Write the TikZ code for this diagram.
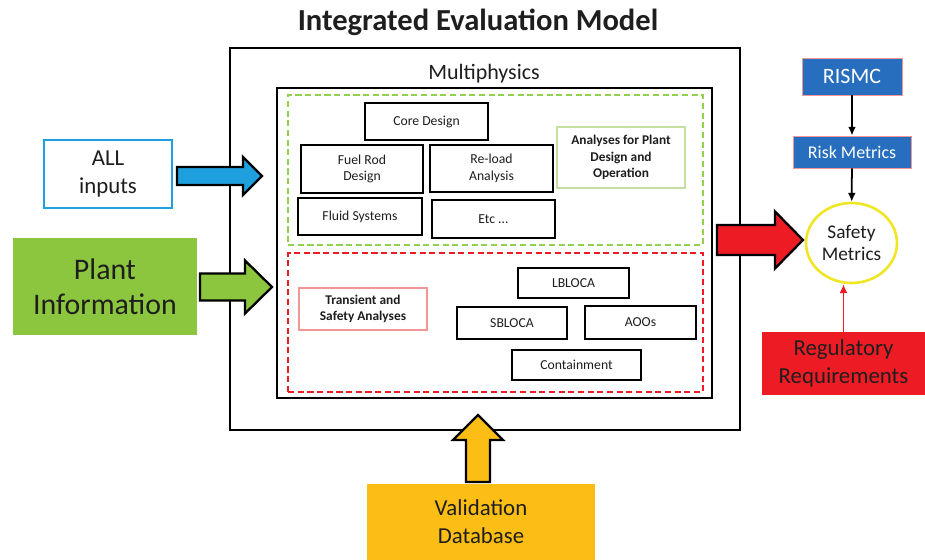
\documentclass[tikz,border=0pt]{standalone}
\usepackage{fontspec}
\setmainfont{Carlito}
\usetikzlibrary{calc,shapes.geometric,arrows.meta}

\definecolor{inblue}{RGB}{30,160,222}
\definecolor{plantgreen}{RGB}{140,198,63}
\definecolor{dashgreen}{RGB}{146,208,80}
\definecolor{notegreen}{RGB}{196,224,160}
\definecolor{dashred}{RGB}{237,28,36}
\definecolor{notered}{RGB}{245,150,150}
\definecolor{regred}{RGB}{237,28,36}
\definecolor{rismcblue}{RGB}{40,110,190}
\definecolor{ringyellow}{RGB}{240,230,40}
\definecolor{validorange}{RGB}{252,190,20}
\definecolor{inktext}{RGB}{30,30,30}

% fat block arrows, pointing right / up: style, tail, tip, half shaft, half head, head length
\newcommand{\rightfat}[6]{%
  \draw[fatarrow, #1] (#2) ++(0,-#4) -- ($(#3)+(-#6,-#4)$) -- ($(#3)+(-#6,-#5)$) -- (#3)
    -- ($(#3)+(-#6,#5)$) -- ($(#3)+(-#6,#4)$) -- ($(#2)+(0,#4)$) -- cycle;}
\newcommand{\upfat}[6]{%
  \draw[fatarrow, #1] (#2) ++(-#4,0) -- ($(#3)+(-#4,#6)$) -- ($(#3)+(-#5,#6)$) -- (#3)
    -- ($(#3)+(#5,#6)$) -- ($(#3)+(#4,#6)$) -- ($(#2)+(#4,0)$) -- cycle;}

\tikzset{
  model/.style={draw, line width=1.2pt},
  zone/.style={draw, line width=1.2pt, dash pattern=on 3.5pt off 2pt},
  subbox/.style={draw, line width=1.3pt, fill=white, align=center, inner sep=1pt,
    text=inktext, font=\fontsize{7.8}{9.4}\selectfont},
  note/.style={draw, line width=0.6pt, fill=white, align=center, inner sep=1pt,
    text=inktext, font=\fontsize{7.6}{9.2}\selectfont\bfseries},
  source/.style={align=center, inner sep=1pt, text=inktext},
  fatarrow/.style={draw, line width=1.3pt, line join=miter},
  link/.style={-{Latex[length=5pt,width=4.5pt]}, line width=1pt},
}

\begin{document}
\begin{tikzpicture}[x=0.02cm, y=-0.02cm]
    \useasboundingbox (0,0) rectangle (925,560);

    % Outer model frame and the multiphysics block
    \node[font=\fontsize{17.4}{20}\selectfont\bfseries, text=inktext] (title) at (478,22) {Integrated Evaluation Model};
    \node[model, minimum width=10.2cm, minimum height=7.64cm] (iem) at (485,239) {};
    \node[model, minimum width=8.7cm, minimum height=6.2cm] (multi) at (494.5,243) {};
    \node[font=\fontsize{12.5}{14}\selectfont, text=inktext] (multilabel) at (484,74) {Multiphysics};

    % Dashed zones
    \node[zone, draw=dashgreen, minimum width=8.3cm, minimum height=3cm] (design) at (495.5,170) {};
    \node[zone, draw=dashred, minimum width=8.3cm, minimum height=2.78cm] (safetyzone) at (495.5,322.5) {};

    % Plant design analyses
    \node[subbox, minimum width=2.46cm, minimum height=0.74cm] (core) at (426.5,121.5) {Core Design};
    \node[subbox, minimum width=2.44cm, minimum height=0.96cm] (fuel) at (362,169) {Fuel Rod\\Design};
    \node[subbox, minimum width=2.46cm, minimum height=0.94cm] (reload) at (491.5,168.5) {Re-load\\Analysis};
    \node[subbox, minimum width=2.48cm, minimum height=0.74cm] (fluid) at (360,216.5) {Fluid Systems};
    \node[subbox, minimum width=2.46cm, minimum height=0.76cm] (etc) at (493.5,219) {Etc ...};
    \node[note, draw=notegreen, minimum width=2.56cm, minimum height=1.22cm] (plantan) at (621,157.5) {Analyses for Plant\\Design and\\Operation};

    % Transient and safety analyses
    \node[note, draw=notered, minimum width=2.56cm, minimum height=0.84cm] (transient) at (363,309) {Transient and\\Safety Analyses};
    \node[subbox, minimum width=2.22cm, minimum height=0.6cm] (lbloca) at (573.5,283) {LBLOCA};
    \node[subbox, minimum width=2.2cm, minimum height=0.64cm] (sbloca) at (512,323) {SBLOCA};
    \node[subbox, minimum width=2.22cm, minimum height=0.66cm] (aoos) at (640.5,322.5) {AOOs};
    \node[subbox, minimum width=2.58cm, minimum height=0.6cm] (contain) at (576.5,365) {Containment};

    % Inputs on the left
    \node[source, draw=inblue, line width=1.6pt, fill=white, minimum width=2.56cm, minimum height=1.36cm,
      font=\fontsize{13}{15.5}\selectfont] (inputs) at (108,174) {ALL\\inputs};
    \node[source, fill=plantgreen, minimum width=3.68cm, minimum height=1.94cm,
      font=\fontsize{17}{20}\selectfont] (plant) at (105,286.5) {Plant\\Information};

    % Validation data below
    \node[source, fill=validorange, minimum width=4.56cm, minimum height=1.52cm,
      font=\fontsize{13}{16}\selectfont] (valid) at (481,522) {Validation\\Database};

    % Safety metrics side
    \node[source, fill=rismcblue, draw=notered, line width=0.5pt, text=white, minimum width=2cm, minimum height=0.74cm,
      font=\fontsize{12.5}{14}\selectfont] (rismc) at (852,76.5) {RISMC};
    \node[source, fill=rismcblue, draw=notered, line width=0.5pt, text=white, minimum width=2.36cm, minimum height=0.64cm,
      font=\fontsize{10.2}{12}\selectfont] (risk) at (852,152) {Risk Metrics};
    \node[source, ellipse, draw=ringyellow, line width=1.5pt, fill=white, minimum width=1.82cm, minimum height=1.6cm,
      inner sep=0pt, font=\fontsize{11}{13}\selectfont] (safety) at (851.5,243) {Safety\\Metrics};
    \node[source, fill=regred, minimum width=3.26cm, minimum height=1.26cm,
      font=\fontsize{13}{15.5}\selectfont] (reg) at (843.5,363.5) {Regulatory\\Requirements};

    \draw[link] (rismc) -- (risk);
    \draw[link] (risk) -- (safety);
    \draw[link, regred, line width=0.8pt] (reg.north) -- (reg.north |- safety.south);

    % Block arrows into and out of the model
    \coordinate (inTail) at (177,176);   \coordinate (inTip) at (262,176);
    \coordinate (plTail) at (200,287);   \coordinate (plTip) at (272,287);
    \coordinate (outTail) at (717,240);  \coordinate (outTip) at (803,240);
    \coordinate (vaTail) at (478,482);   \coordinate (vaTip) at (478,415);
    \rightfat{fill=inblue}{inTail}{inTip}{9}{19}{19}
    \rightfat{fill=plantgreen}{plTail}{plTip}{13.5}{26.5}{27}
    \rightfat{fill=regred}{outTail}{outTip}{15}{28.5}{28}
    \upfat{fill=validorange}{vaTail}{vaTip}{12}{25}{25}
\end{tikzpicture}
\end{document}
